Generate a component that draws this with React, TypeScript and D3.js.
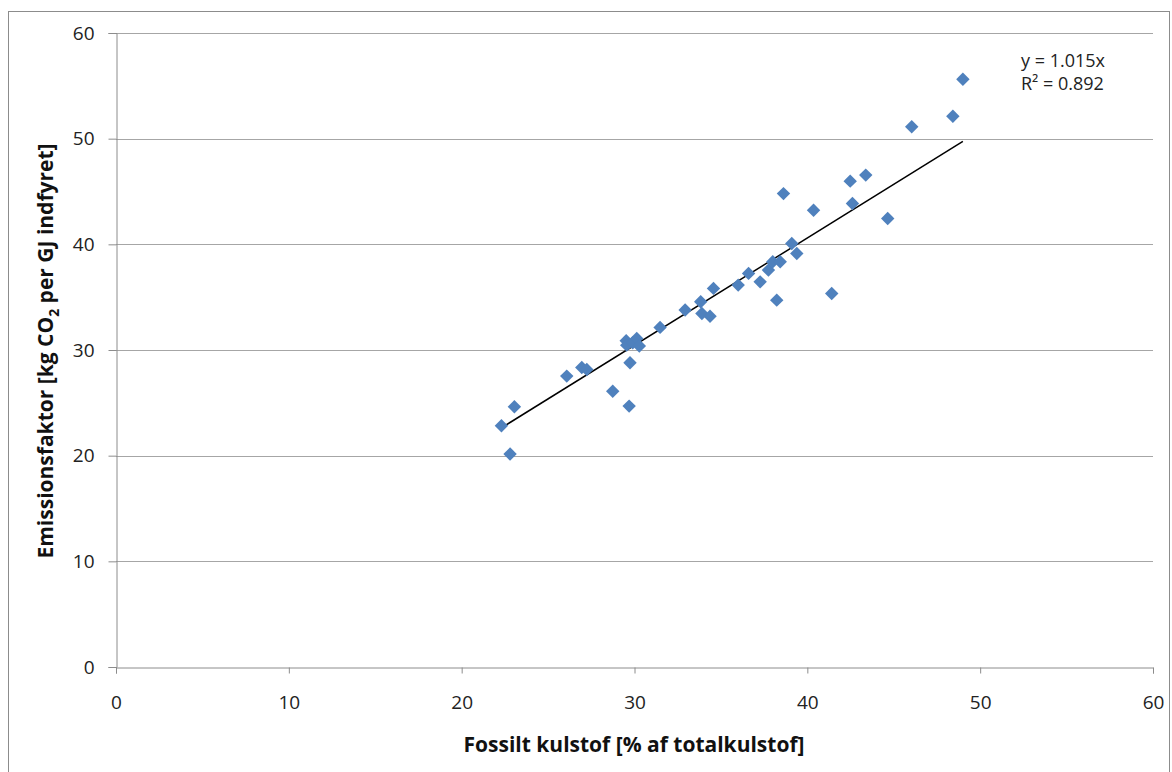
import * as d3 from 'd3';
import { useEffect, useRef } from 'react';

// Fossilt kulstof [%] vs emissionsfaktor [kg CO2 / GJ]
const fossilShare = [
    22.3, 23.05, 22.8, 26.08, 26.95, 27.24, 28.74, 29.69, 29.74,
    29.52, 29.55, 29.9, 30.13, 30.28, 31.48, 32.93, 33.83, 33.9,
    34.37, 34.57, 36.0, 36.6, 37.27, 37.75, 38.0, 38.43, 38.23,
    38.62, 39.1, 39.39, 40.36, 41.41, 42.48, 43.38, 42.61, 44.65,
    46.04, 48.42, 49.0,
];
const emissionFactor = [
    22.83, 24.63, 20.15, 27.53, 28.35, 28.16, 26.1, 24.69, 28.79,
    30.87, 30.46, 30.68, 31.1, 30.37, 32.14, 33.78, 34.56, 33.46,
    33.2, 35.83, 36.14, 37.25, 36.45, 37.56, 38.35, 38.35, 34.72,
    44.8, 40.08, 39.14, 43.23, 35.35, 45.98, 46.55, 43.87, 42.45,
    51.12, 52.13, 55.63,
];
const xTicks = [0, 10, 20, 30, 40, 50, 60];
const yTicks = [0, 10, 20, 30, 40, 50, 60];
const slope = 1.015;
const trendLabel = 'y = 1.015x';
const r2Label = 'R² = 0.892';

function App() {
    const svgRef = useRef(null);

    useEffect(() => {
        const svg = d3.select(svgRef.current);
        svg.selectAll('*').remove();

        const font = "'Open Sans', 'Liberation Sans', sans-serif";
        const margin = { top: 33, right: 19, bottom: 105, left: 116 };
        const W = 1172, H = 772;
        const width = W - margin.left - margin.right;
        const height = H - margin.top - margin.bottom;

        // outer chart border
        svg.append('rect')
            .attr('x', 8.5).attr('y', 11.5)
            .attr('width', 1161).attr('height', 770)
            .attr('fill', 'white')
            .attr('stroke', '#8c8c8c');

        const g = svg.append('g')
            .attr('transform', `translate(${margin.left}, ${margin.top})`);

        const x = d3.scaleLinear().domain([0, 60]).range([0, width]);
        const y = d3.scaleLinear().domain([0, 60]).range([height, 0]);

        // gridlines
        g.selectAll('.grid')
            .data(yTicks.filter(d => d > 0))
            .enter().append('line')
            .attr('x1', 0).attr('x2', width)
            .attr('y1', d => Math.round(y(d)) + 0.5)
            .attr('y2', d => Math.round(y(d)) + 0.5)
            .attr('stroke', '#a6a6a6');

        const yAxis = g.append('g')
            .attr('transform', 'translate(0.5, 0)')
            .call(d3.axisLeft(y).tickValues(yTicks).tickSize(8).tickPadding(14));
        const xAxis = g.append('g')
            .attr('transform', `translate(0, ${Math.round(height) + 0.5})`)
            .call(d3.axisBottom(x).tickValues(xTicks).tickSize(6).tickPadding(22));

        [xAxis, yAxis].forEach(ax => {
            ax.selectAll('.domain').attr('stroke', '#8c8c8c');
            ax.selectAll('.tick line').attr('stroke', '#8c8c8c');
            ax.selectAll('.tick text')
                .attr('fill', '#222')
                .attr('font-size', '19px')
                .attr('font-family', font);
        });

        // trend line through origin
        const xMin = d3.min(fossilShare), xMax = d3.max(fossilShare);
        g.append('line')
            .attr('x1', x(xMin)).attr('y1', y(slope * xMin))
            .attr('x2', x(xMax)).attr('y2', y(slope * xMax))
            .attr('stroke', 'black')
            .attr('stroke-width', 1.5);

        const diamond = d3.symbol().type(d3.symbolDiamond2).size(115);
        g.selectAll('.dot')
            .data(fossilShare.map((v, i) => [v, emissionFactor[i]]))
            .enter().append('path')
            .attr('class', 'dot')
            .attr('d', diamond)
            .attr('transform', d => `translate(${x(d[0])}, ${y(d[1])})`)
            .attr('fill', '#4f81bd');

        // equation
        const eq = svg.append('text')
            .attr('x', 1021).attr('y', 67)
            .attr('font-family', font)
            .attr('font-size', '18px')
            .attr('fill', '#222');
        eq.append('tspan').attr('x', 1021).text(trendLabel);
        eq.append('tspan').attr('x', 1021).attr('dy', 23).text(r2Label);

        // axis titles
        svg.append('text')
            .attr('x', 634)
            .attr('y', 752)
            .attr('text-anchor', 'middle')
            .attr('font-family', font)
            .attr('font-weight', 'bold')
            .attr('font-size', '21px')
            .attr('fill', '#111')
            .text('Fossilt kulstof [% af totalkulstof]');

        const yt = svg.append('text')
            .attr('transform', `translate(53, 351) rotate(-90)`)
            .attr('text-anchor', 'middle')
            .attr('font-family', font)
            .attr('font-weight', 'bold')
            .attr('font-size', '21px')
            .attr('fill', '#111');
        yt.append('tspan').text('Emissionsfaktor [kg CO');
        yt.append('tspan').attr('font-size', '14px').attr('dy', 6).text('2');
        yt.append('tspan').attr('dy', -6).text(' per GJ indfyret]');

        return () => { d3.select(svgRef.current).selectAll('*').remove(); };
    }, []);

    return (
        <svg ref={svgRef} width={1172} height={772}
            style={{ position: 'absolute', left: 0, top: 0, background: 'white' }} />
    );
}

export default App;
